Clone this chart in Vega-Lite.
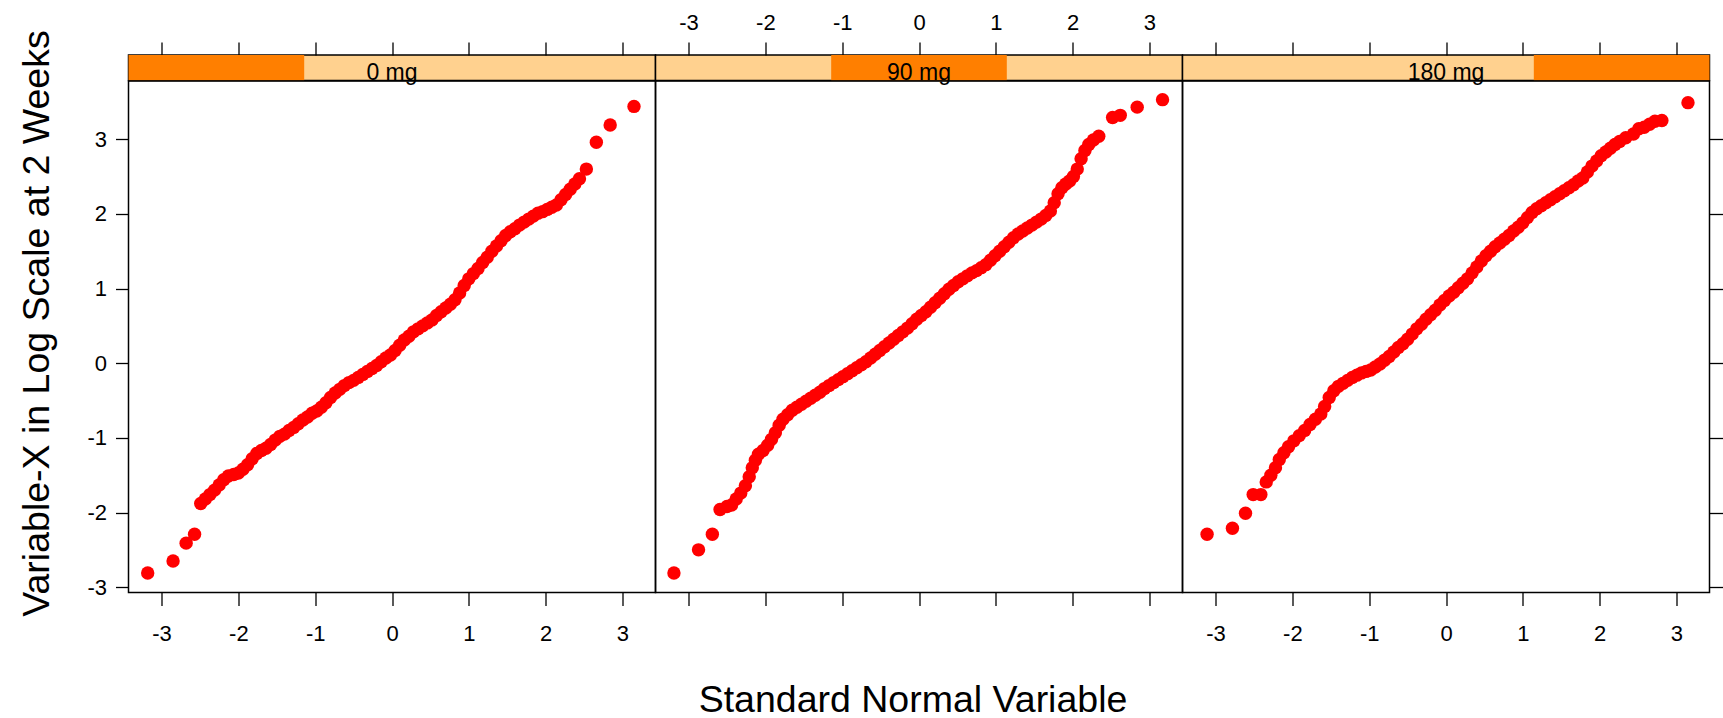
{
  "$schema": "https://vega.github.io/schema/vega-lite/v6.json",
  "padding": {"left": 17.5, "top": 10, "right": 0, "bottom": 0},
  "background": "white",
  "config": {
    "font": "Liberation Sans",
    "axis": {"labelFont": "Liberation Sans", "titleFont": "Liberation Sans", "labelColor": "black", "titleColor": "black", "tickColor": "black", "domain": false, "grid": false, "labelFontSize": 22, "titleFontSize": 37.5, "titleFontWeight": "normal", "tickSize": 13, "tickWidth": 1.3, "labelFlush": false, "labelOverlap": false, "labelExpr": "datum.value + ''"},
    "view": {"stroke": "black", "strokeWidth": 1.5},
    "concat": {"spacing": 0}
  },
  "datasets": {
    "strips": [
      {"d": "0 mg", "lo": -3.43, "hi": -1.143},
      {"d": "90 mg", "lo": -1.143, "hi": 1.143},
      {"d": "180 mg", "lo": 1.143, "hi": 3.43}
    ],
    "pts": [
      {"d":"0 mg","x":-3.18,"y":-2.81},{"d":"0 mg","x":-2.85,"y":-2.65},{"d":"0 mg","x":-2.68,"y":-2.41},{"d":"0 mg","x":-2.57,"y":-2.29},
      {"d":"0 mg","x":-2.49,"y":-1.88},{"d":"0 mg","x":-2.43,"y":-1.82},{"d":"0 mg","x":-2.37,"y":-1.76},{"d":"0 mg","x":-2.31,"y":-1.7},{"d":"0 mg","x":-2.25,"y":-1.63},{"d":"0 mg","x":-2.19,"y":-1.56},{"d":"0 mg","x":-2.13,"y":-1.51},{"d":"0 mg","x":-2.06,"y":-1.49},{"d":"0 mg","x":-2.0,"y":-1.47},{"d":"0 mg","x":-1.94,"y":-1.42},{"d":"0 mg","x":-1.88,"y":-1.36},{"d":"0 mg","x":-1.82,"y":-1.28},{"d":"0 mg","x":-1.76,"y":-1.21},{"d":"0 mg","x":-1.7,"y":-1.17},{"d":"0 mg","x":-1.64,"y":-1.14},{"d":"0 mg","x":-1.58,"y":-1.09},{"d":"0 mg","x":-1.52,"y":-1.03},{"d":"0 mg","x":-1.46,"y":-0.98},{"d":"0 mg","x":-1.4,"y":-0.95},{"d":"0 mg","x":-1.34,"y":-0.9},{"d":"0 mg","x":-1.28,"y":-0.86},{"d":"0 mg","x":-1.22,"y":-0.81},{"d":"0 mg","x":-1.16,"y":-0.76},{"d":"0 mg","x":-1.1,"y":-0.72},{"d":"0 mg","x":-1.04,"y":-0.67},{"d":"0 mg","x":-0.98,"y":-0.64},{"d":"0 mg","x":-0.92,"y":-0.59},{"d":"0 mg","x":-0.86,"y":-0.53},{"d":"0 mg","x":-0.8,"y":-0.46},{"d":"0 mg","x":-0.74,"y":-0.4},{"d":"0 mg","x":-0.68,"y":-0.35},{"d":"0 mg","x":-0.62,"y":-0.3},{"d":"0 mg","x":-0.56,"y":-0.26},{"d":"0 mg","x":-0.5,"y":-0.23},{"d":"0 mg","x":-0.44,"y":-0.19},{"d":"0 mg","x":-0.38,"y":-0.15},{"d":"0 mg","x":-0.32,"y":-0.11},{"d":"0 mg","x":-0.26,"y":-0.07},{"d":"0 mg","x":-0.2,"y":-0.03},{"d":"0 mg","x":-0.14,"y":0.02},{"d":"0 mg","x":-0.08,"y":0.07},{"d":"0 mg","x":-0.02,"y":0.11},{"d":"0 mg","x":0.04,"y":0.17},{"d":"0 mg","x":0.1,"y":0.24},{"d":"0 mg","x":0.16,"y":0.31},{"d":"0 mg","x":0.22,"y":0.36},{"d":"0 mg","x":0.28,"y":0.42},{"d":"0 mg","x":0.34,"y":0.46},{"d":"0 mg","x":0.4,"y":0.5},{"d":"0 mg","x":0.46,"y":0.54},{"d":"0 mg","x":0.52,"y":0.58},{"d":"0 mg","x":0.58,"y":0.64},{"d":"0 mg","x":0.64,"y":0.69},{"d":"0 mg","x":0.7,"y":0.74},{"d":"0 mg","x":0.76,"y":0.79},{"d":"0 mg","x":0.82,"y":0.85},{"d":"0 mg","x":0.88,"y":0.94},{"d":"0 mg","x":0.94,"y":1.04},{"d":"0 mg","x":1.0,"y":1.13},{"d":"0 mg","x":1.06,"y":1.2},{"d":"0 mg","x":1.12,"y":1.27},{"d":"0 mg","x":1.18,"y":1.35},{"d":"0 mg","x":1.24,"y":1.42},{"d":"0 mg","x":1.3,"y":1.5},{"d":"0 mg","x":1.36,"y":1.57},{"d":"0 mg","x":1.42,"y":1.64},{"d":"0 mg","x":1.48,"y":1.71},{"d":"0 mg","x":1.54,"y":1.76},{"d":"0 mg","x":1.6,"y":1.8},{"d":"0 mg","x":1.66,"y":1.85},{"d":"0 mg","x":1.72,"y":1.89},{"d":"0 mg","x":1.78,"y":1.93},{"d":"0 mg","x":1.84,"y":1.97},{"d":"0 mg","x":1.9,"y":2.01},{"d":"0 mg","x":1.96,"y":2.03},{"d":"0 mg","x":2.02,"y":2.06},{"d":"0 mg","x":2.08,"y":2.09},{"d":"0 mg","x":2.14,"y":2.12},{"d":"0 mg","x":2.2,"y":2.19},{"d":"0 mg","x":2.26,"y":2.26},{"d":"0 mg","x":2.32,"y":2.33},{"d":"0 mg","x":2.38,"y":2.4},{"d":"0 mg","x":2.44,"y":2.47},{"d":"0 mg","x":2.53,"y":2.6},{"d":"0 mg","x":2.66,"y":2.96},{"d":"0 mg","x":2.84,"y":3.19},{"d":"0 mg","x":3.15,"y":3.44},

      {"d":"90 mg","x":-3.19,"y":-2.81},{"d":"90 mg","x":-2.87,"y":-2.5},{"d":"90 mg","x":-2.69,"y":-2.29},{"d":"90 mg","x":-2.59,"y":-1.96},{"d":"90 mg","x":-2.5,"y":-1.92},{"d":"90 mg","x":-2.44,"y":-1.9},{"d":"90 mg","x":-2.38,"y":-1.82},{"d":"90 mg","x":-2.32,"y":-1.74},{"d":"90 mg","x":-2.26,"y":-1.64},{"d":"90 mg","x":-2.21,"y":-1.52},{"d":"90 mg","x":-2.17,"y":-1.4},{"d":"90 mg","x":-2.13,"y":-1.3},{"d":"90 mg","x":-2.09,"y":-1.22},{"d":"90 mg","x":-2.03,"y":-1.17},{"d":"90 mg","x":-1.97,"y":-1.1},{"d":"90 mg","x":-1.92,"y":-1.02},{"d":"90 mg","x":-1.87,"y":-0.93},{"d":"90 mg","x":-1.82,"y":-0.83},{"d":"90 mg","x":-1.77,"y":-0.75},{"d":"90 mg","x":-1.71,"y":-0.69},{"d":"90 mg","x":-1.65,"y":-0.63},{"d":"90 mg","x":-1.59,"y":-0.59},{"d":"90 mg","x":-1.53,"y":-0.55},{"d":"90 mg","x":-1.47,"y":-0.51},{"d":"90 mg","x":-1.41,"y":-0.47},{"d":"90 mg","x":-1.35,"y":-0.43},{"d":"90 mg","x":-1.29,"y":-0.39},{"d":"90 mg","x":-1.23,"y":-0.34},{"d":"90 mg","x":-1.17,"y":-0.3},{"d":"90 mg","x":-1.11,"y":-0.26},{"d":"90 mg","x":-1.05,"y":-0.22},{"d":"90 mg","x":-0.99,"y":-0.18},{"d":"90 mg","x":-0.93,"y":-0.14},{"d":"90 mg","x":-0.87,"y":-0.1},{"d":"90 mg","x":-0.81,"y":-0.06},{"d":"90 mg","x":-0.75,"y":-0.02},{"d":"90 mg","x":-0.69,"y":0.02},{"d":"90 mg","x":-0.63,"y":0.07},{"d":"90 mg","x":-0.57,"y":0.12},{"d":"90 mg","x":-0.51,"y":0.17},{"d":"90 mg","x":-0.45,"y":0.22},{"d":"90 mg","x":-0.39,"y":0.27},{"d":"90 mg","x":-0.33,"y":0.32},{"d":"90 mg","x":-0.27,"y":0.37},{"d":"90 mg","x":-0.21,"y":0.42},{"d":"90 mg","x":-0.15,"y":0.47},{"d":"90 mg","x":-0.09,"y":0.53},{"d":"90 mg","x":-0.03,"y":0.59},{"d":"90 mg","x":0.03,"y":0.64},{"d":"90 mg","x":0.09,"y":0.69},{"d":"90 mg","x":0.15,"y":0.75},{"d":"90 mg","x":0.21,"y":0.81},{"d":"90 mg","x":0.27,"y":0.87},{"d":"90 mg","x":0.33,"y":0.93},{"d":"90 mg","x":0.39,"y":0.99},{"d":"90 mg","x":0.45,"y":1.04},{"d":"90 mg","x":0.51,"y":1.09},{"d":"90 mg","x":0.57,"y":1.13},{"d":"90 mg","x":0.63,"y":1.17},{"d":"90 mg","x":0.69,"y":1.21},{"d":"90 mg","x":0.75,"y":1.24},{"d":"90 mg","x":0.81,"y":1.28},{"d":"90 mg","x":0.87,"y":1.32},{"d":"90 mg","x":0.93,"y":1.38},{"d":"90 mg","x":0.99,"y":1.44},{"d":"90 mg","x":1.05,"y":1.5},{"d":"90 mg","x":1.11,"y":1.56},{"d":"90 mg","x":1.17,"y":1.62},{"d":"90 mg","x":1.23,"y":1.68},{"d":"90 mg","x":1.29,"y":1.73},{"d":"90 mg","x":1.35,"y":1.77},{"d":"90 mg","x":1.41,"y":1.81},{"d":"90 mg","x":1.47,"y":1.85},{"d":"90 mg","x":1.53,"y":1.89},{"d":"90 mg","x":1.59,"y":1.93},{"d":"90 mg","x":1.65,"y":1.98},{"d":"90 mg","x":1.71,"y":2.04},{"d":"90 mg","x":1.76,"y":2.15},{"d":"90 mg","x":1.81,"y":2.27},{"d":"90 mg","x":1.86,"y":2.35},{"d":"90 mg","x":1.91,"y":2.4},{"d":"90 mg","x":1.96,"y":2.44},{"d":"90 mg","x":2.01,"y":2.5},{"d":"90 mg","x":2.06,"y":2.6},{"d":"90 mg","x":2.11,"y":2.74},{"d":"90 mg","x":2.16,"y":2.85},{"d":"90 mg","x":2.21,"y":2.93},{"d":"90 mg","x":2.27,"y":2.99},{"d":"90 mg","x":2.34,"y":3.04},{"d":"90 mg","x":2.52,"y":3.29},{"d":"90 mg","x":2.62,"y":3.32},{"d":"90 mg","x":2.84,"y":3.43},{"d":"90 mg","x":3.17,"y":3.53},

      {"d":"180 mg","x":-3.11,"y":-2.29},{"d":"180 mg","x":-2.78,"y":-2.21},{"d":"180 mg","x":-2.61,"y":-2.01},{"d":"180 mg","x":-2.51,"y":-1.76},{"d":"180 mg","x":-2.41,"y":-1.76},{"d":"180 mg","x":-2.34,"y":-1.59},{"d":"180 mg","x":-2.28,"y":-1.5},{"d":"180 mg","x":-2.22,"y":-1.4},{"d":"180 mg","x":-2.17,"y":-1.29},{"d":"180 mg","x":-2.11,"y":-1.2},{"d":"180 mg","x":-2.05,"y":-1.12},{"d":"180 mg","x":-1.98,"y":-1.04},{"d":"180 mg","x":-1.91,"y":-0.97},{"d":"180 mg","x":-1.84,"y":-0.9},{"d":"180 mg","x":-1.77,"y":-0.82},{"d":"180 mg","x":-1.7,"y":-0.75},{"d":"180 mg","x":-1.63,"y":-0.68},{"d":"180 mg","x":-1.58,"y":-0.58},{"d":"180 mg","x":-1.52,"y":-0.46},{"d":"180 mg","x":-1.46,"y":-0.37},{"d":"180 mg","x":-1.4,"y":-0.31},{"d":"180 mg","x":-1.34,"y":-0.27},{"d":"180 mg","x":-1.28,"y":-0.23},{"d":"180 mg","x":-1.22,"y":-0.19},{"d":"180 mg","x":-1.16,"y":-0.16},{"d":"180 mg","x":-1.1,"y":-0.13},{"d":"180 mg","x":-1.04,"y":-0.11},{"d":"180 mg","x":-0.98,"y":-0.09},{"d":"180 mg","x":-0.92,"y":-0.05},{"d":"180 mg","x":-0.86,"y":-0.01},{"d":"180 mg","x":-0.8,"y":0.04},{"d":"180 mg","x":-0.74,"y":0.09},{"d":"180 mg","x":-0.68,"y":0.15},{"d":"180 mg","x":-0.62,"y":0.21},{"d":"180 mg","x":-0.56,"y":0.26},{"d":"180 mg","x":-0.5,"y":0.32},{"d":"180 mg","x":-0.44,"y":0.39},{"d":"180 mg","x":-0.38,"y":0.46},{"d":"180 mg","x":-0.32,"y":0.52},{"d":"180 mg","x":-0.26,"y":0.59},{"d":"180 mg","x":-0.2,"y":0.65},{"d":"180 mg","x":-0.14,"y":0.71},{"d":"180 mg","x":-0.08,"y":0.78},{"d":"180 mg","x":-0.02,"y":0.84},{"d":"180 mg","x":0.04,"y":0.9},{"d":"180 mg","x":0.1,"y":0.95},{"d":"180 mg","x":0.16,"y":1.01},{"d":"180 mg","x":0.22,"y":1.07},{"d":"180 mg","x":0.28,"y":1.13},{"d":"180 mg","x":0.34,"y":1.21},{"d":"180 mg","x":0.4,"y":1.29},{"d":"180 mg","x":0.46,"y":1.37},{"d":"180 mg","x":0.52,"y":1.44},{"d":"180 mg","x":0.58,"y":1.5},{"d":"180 mg","x":0.64,"y":1.56},{"d":"180 mg","x":0.7,"y":1.61},{"d":"180 mg","x":0.76,"y":1.66},{"d":"180 mg","x":0.82,"y":1.71},{"d":"180 mg","x":0.88,"y":1.77},{"d":"180 mg","x":0.94,"y":1.82},{"d":"180 mg","x":1.0,"y":1.88},{"d":"180 mg","x":1.06,"y":1.95},{"d":"180 mg","x":1.12,"y":2.02},{"d":"180 mg","x":1.18,"y":2.07},{"d":"180 mg","x":1.24,"y":2.11},{"d":"180 mg","x":1.3,"y":2.15},{"d":"180 mg","x":1.36,"y":2.19},{"d":"180 mg","x":1.42,"y":2.23},{"d":"180 mg","x":1.48,"y":2.27},{"d":"180 mg","x":1.54,"y":2.31},{"d":"180 mg","x":1.6,"y":2.35},{"d":"180 mg","x":1.66,"y":2.39},{"d":"180 mg","x":1.72,"y":2.44},{"d":"180 mg","x":1.78,"y":2.48},{"d":"180 mg","x":1.84,"y":2.56},{"d":"180 mg","x":1.9,"y":2.64},{"d":"180 mg","x":1.96,"y":2.71},{"d":"180 mg","x":2.02,"y":2.78},{"d":"180 mg","x":2.08,"y":2.83},{"d":"180 mg","x":2.14,"y":2.88},{"d":"180 mg","x":2.2,"y":2.93},{"d":"180 mg","x":2.26,"y":2.97},{"d":"180 mg","x":2.34,"y":3.02},{"d":"180 mg","x":2.44,"y":3.07},{"d":"180 mg","x":2.51,"y":3.14},{"d":"180 mg","x":2.58,"y":3.16},{"d":"180 mg","x":2.65,"y":3.2},{"d":"180 mg","x":2.72,"y":3.24},{"d":"180 mg","x":2.81,"y":3.25},{"d":"180 mg","x":3.15,"y":3.49}
    ]
  },
  "columns": 3,
  "spacing": 0,
  "bounds": "flush",
  "align": "each",
  "concat": [
    {
      "width": 527, "height": 25.5,
      "view": {"fill": "#ffd18f", "stroke": "black", "strokeWidth": 1.5},
      "data": {"name": "strips"},
      "transform": [{"filter": "datum.d === '0 mg'"}],
      "layer": [
        {"mark": {"type": "rect", "color": "#ff7f00"},
         "encoding": {"x": {"field": "lo", "type": "quantitative", "scale": {"domain": [-3.43, 3.43], "nice": false, "zero": false},
           "axis": {"orient": "top", "values": [-3, -2, -1, 0, 1, 2, 3], "title": null, "labelPadding": 8, "labelColor": "transparent"}},
           "x2": {"field": "hi"}}},
        {"mark": {"type": "text", "fontSize": 23, "baseline": "alphabetic", "dy": 12.5, "color": "black"},
         "encoding": {"text": {"field": "d"}}}
      ]
    },
    {
      "width": 527, "height": 25.5,
      "view": {"fill": "#ffd18f", "stroke": "black", "strokeWidth": 1.5},
      "data": {"name": "strips"},
      "transform": [{"filter": "datum.d === '90 mg'"}],
      "layer": [
        {"mark": {"type": "rect", "color": "#ff7f00"},
         "encoding": {"x": {"field": "lo", "type": "quantitative", "scale": {"domain": [-3.43, 3.43], "nice": false, "zero": false},
           "axis": {"orient": "top", "values": [-3, -2, -1, 0, 1, 2, 3], "title": null, "labelPadding": 8}},
           "x2": {"field": "hi"}}},
        {"mark": {"type": "text", "fontSize": 23, "baseline": "alphabetic", "dy": 12.5, "color": "black"},
         "encoding": {"text": {"field": "d"}}}
      ]
    },
    {
      "width": 527, "height": 25.5,
      "view": {"fill": "#ffd18f", "stroke": "black", "strokeWidth": 1.5},
      "data": {"name": "strips"},
      "transform": [{"filter": "datum.d === '180 mg'"}],
      "layer": [
        {"mark": {"type": "rect", "color": "#ff7f00"},
         "encoding": {"x": {"field": "lo", "type": "quantitative", "scale": {"domain": [-3.43, 3.43], "nice": false, "zero": false},
           "axis": {"orient": "top", "values": [-3, -2, -1, 0, 1, 2, 3], "title": null, "labelPadding": 8, "labelColor": "transparent"}},
           "x2": {"field": "hi"}}},
        {"mark": {"type": "text", "fontSize": 23, "baseline": "alphabetic", "dy": 12.5, "color": "black"},
         "encoding": {"text": {"field": "d"}}}
      ]
    },
    {
      "width": 527, "height": 511.4,
      "data": {"name": "pts"},
      "transform": [{"filter": "datum.d === '0 mg'"}],
      "mark": {"type": "circle", "color": "#ff0000", "size": 180, "opacity": 1},
      "encoding": {
        "x": {"field": "x", "type": "quantitative", "scale": {"domain": [-3.43, 3.43], "nice": false, "zero": false},
          "axis": {"orient": "bottom", "values": [-3, -2, -1, 0, 1, 2, 3], "title": null, "labelPadding": 18}},
        "y": {"field": "y", "type": "quantitative", "scale": {"domain": [-3.07, 3.78], "nice": false, "zero": false},
          "axis": {"orient": "left", "values": [-3, -2, -1, 0, 1, 2, 3], "title": "Variable-X in Log Scale at 2 Weeks", "titlePadding": 30, "labelPadding": 9, "titleY": 242}}
      }
    },
    {
      "width": 527, "height": 511.4,
      "data": {"name": "pts"},
      "transform": [{"filter": "datum.d === '90 mg'"}],
      "mark": {"type": "circle", "color": "#ff0000", "size": 180, "opacity": 1},
      "encoding": {
        "x": {"field": "x", "type": "quantitative", "scale": {"domain": [-3.43, 3.43], "nice": false, "zero": false},
          "axis": {"orient": "bottom", "values": [-3, -2, -1, 0, 1, 2, 3], "title": "Standard Normal Variable", "labelPadding": 18, "labelColor": "transparent", "titlePadding": 37, "titleX": 257}},
        "y": {"field": "y", "type": "quantitative", "scale": {"domain": [-3.07, 3.78], "nice": false, "zero": false}, "axis": null}
      }
    },
    {
      "width": 527, "height": 511.4,
      "data": {"name": "pts"},
      "transform": [{"filter": "datum.d === '180 mg'"}],
      "mark": {"type": "circle", "color": "#ff0000", "size": 180, "opacity": 1},
      "encoding": {
        "x": {"field": "x", "type": "quantitative", "scale": {"domain": [-3.43, 3.43], "nice": false, "zero": false},
          "axis": {"orient": "bottom", "values": [-3, -2, -1, 0, 1, 2, 3], "title": null, "labelPadding": 18}},
        "y": {"field": "y", "type": "quantitative", "scale": {"domain": [-3.07, 3.78], "nice": false, "zero": false},
          "axis": {"orient": "right", "values": [-3, -2, -1, 0, 1, 2, 3], "title": null, "labels": false}}
      }
    }
  ]
}
